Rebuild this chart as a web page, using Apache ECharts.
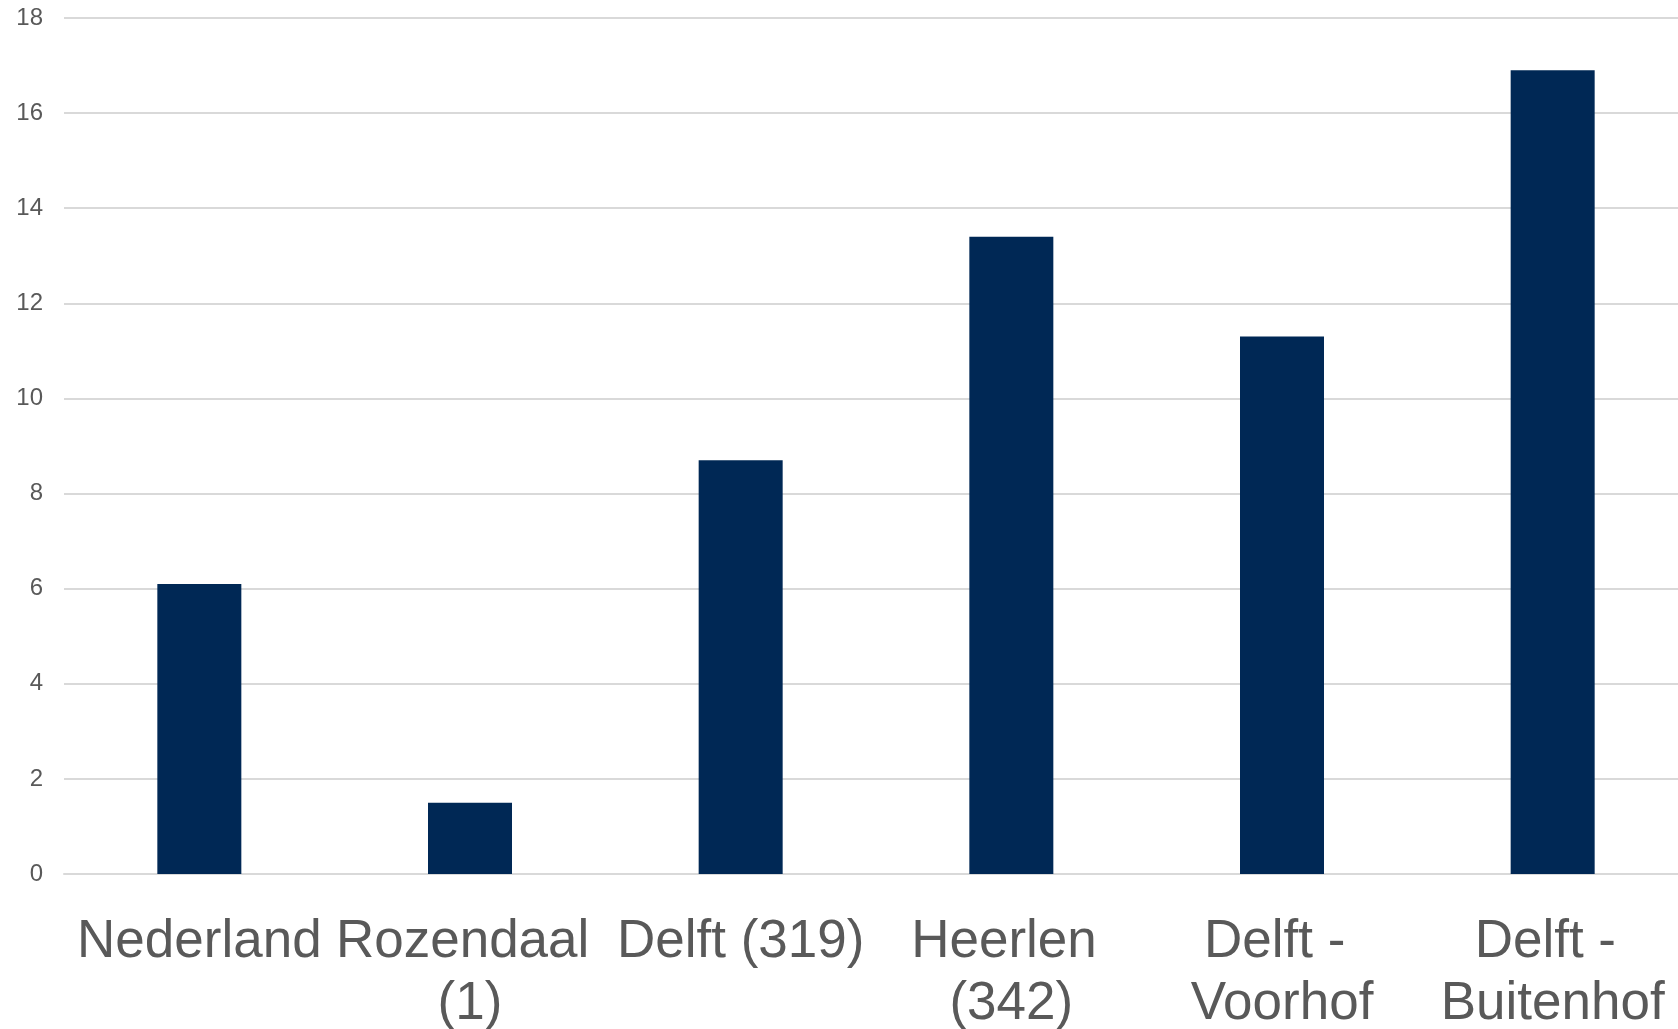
<!DOCTYPE html>
<html>
<head>
<meta charset="utf-8">
<script src="https://cdn.jsdelivr.net/npm/echarts@6/dist/echarts.min.js"></script>
<style>
html,body{margin:0;padding:0;background:#fff;}
#chart{width:1678px;height:1029px;}
</style>
</head>
<body>
<div id="chart"></div>
<script>
const categories = ['Nederland', 'Rozendaal (1)', 'Delft (319)', 'Heerlen (342)', 'Delft - Voorhof', 'Delft - Buitenhof'];
const values = [6.1, 1.5, 8.7, 13.4, 11.3, 16.9];
const yTicks = [0, 2, 4, 6, 8, 10, 12, 14, 16, 18];

const chart = echarts.init(document.getElementById('chart'), null, {renderer: 'canvas'});
chart.setOption({
  animation: false,
  backgroundColor: '#ffffff',
  grid: {left: 64, right: -10, top: 18, bottom: 155, containLabel: false, outerBoundsMode: 'none'},
  xAxis: {
    type: 'category',
    data: categories,
    axisLine: {show: true, lineStyle: {color: '#d9d9d9', width: 2}},
    axisTick: {show: false},
    axisLabel: {
      interval: 0,
      margin: 37,
      fontFamily: 'Liberation Sans, Arial, sans-serif',
      fontSize: 53,
      lineHeight: 62,
      color: '#595959',
      width: 271,
      overflow: 'break'
    }
  },
  yAxis: {
    type: 'value',
    min: yTicks[0],
    max: yTicks[yTicks.length - 1],
    interval: 2,
    axisLine: {show: false},
    axisTick: {show: false},
    splitLine: {show: true, lineStyle: {color: '#d9d9d9', width: 2}},
    axisLabel: {
      margin: 21,
      fontFamily: 'Liberation Sans, Arial, sans-serif',
      fontSize: 24,
      color: '#595959'
    }
  },
  series: [{
    type: 'bar',
    data: values,
    barWidth: 84,
    itemStyle: {color: '#002855'}
  }]
});
</script>
</body>
</html>
